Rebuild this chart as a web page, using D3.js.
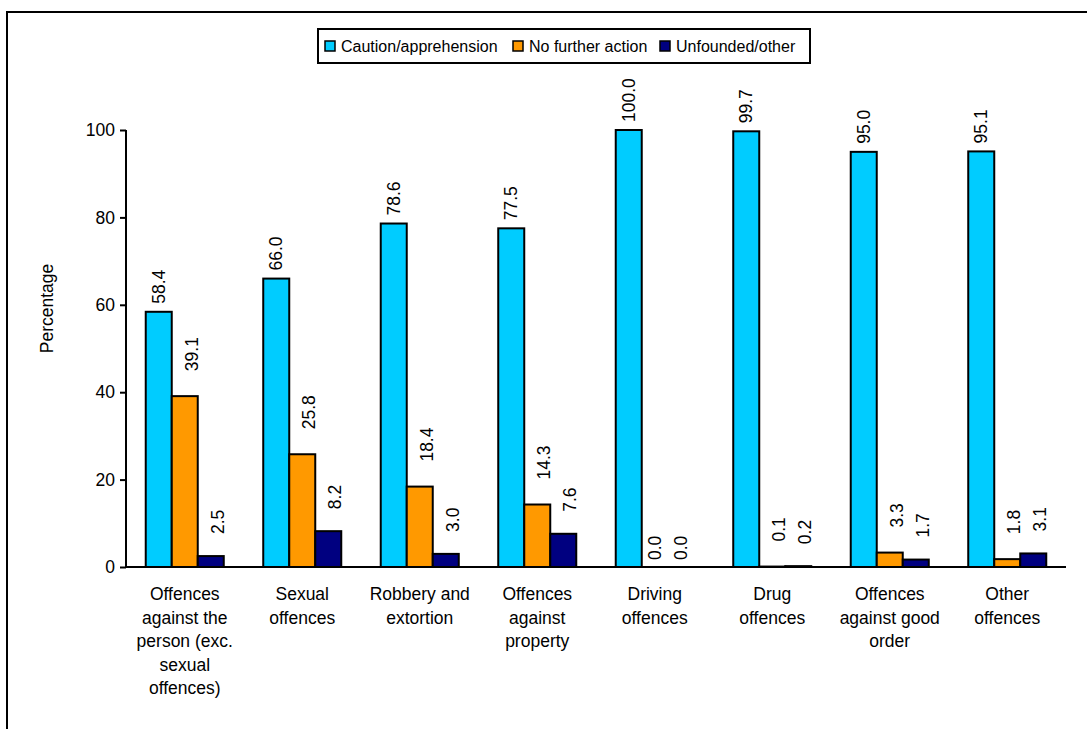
<!DOCTYPE html>
<html>
<head>
<meta charset="utf-8">
<script src="https://cdn.jsdelivr.net/npm/d3@7"></script>
<style>
  html, body { margin: 0; padding: 0; background: #fff; }
  svg { display: block; font-family: Arial, "Liberation Sans", sans-serif; }
</style>
</head>
<body>
<svg id="chart" width="1087" height="729"></svg>
<script>
// Offence categories (multi-line axis labels)
const categories = [
  ["Offences", "against the", "person (exc.", "sexual", "offences)"],
  ["Sexual", "offences"],
  ["Robbery and", "extortion"],
  ["Offences", "against", "property"],
  ["Driving", "offences"],
  ["Drug", "offences"],
  ["Offences", "against good", "order"],
  ["Other", "offences"]
];
const seriesNames = ["Caution/apprehension", "No further action", "Unfounded/other"];
const cautionValues   = [58.4, 66.0, 78.6, 77.5, 100.0, 99.7, 95.0, 95.1];
const noFurtherValues = [39.1, 25.8, 18.4, 14.3, 0.0, 0.1, 3.3, 1.8];
const unfoundedValues = [2.5, 8.2, 3.0, 7.6, 0.0, 0.2, 1.7, 3.1];
const yTicks = [0, 20, 40, 60, 80, 100];
const yTitle = "Percentage";

const seriesValues = [cautionValues, noFurtherValues, unfoundedValues];
const colors = ["#00CCFF", "#FF9900", "#000080"];
const labelGap = [8, 25, 22];
const labelShift = [0, 7, 7];

const svg = d3.select("#chart");

// outer chart frame (left and top edges visible)
svg.append("path")
  .attr("d", "M7,729 V12 H1087")
  .attr("fill", "none").attr("stroke", "#000").attr("stroke-width", 2);

const plot = { left: 126, right: 1066, top: 130, bottom: 567 };

const x0 = d3.scaleBand()
  .domain(d3.range(categories.length))
  .range([plot.left, plot.right])
  .paddingInner(0.336).paddingOuter(0.168);
const x1 = d3.scaleBand()
  .domain(d3.range(seriesNames.length))
  .range([0, x0.bandwidth()]);
const y = d3.scaleLinear().domain([0, 100]).range([plot.bottom, plot.top]);

// y axis
const yAxis = svg.append("g")
  .attr("transform", `translate(${plot.left},0)`)
  .call(d3.axisLeft(y).tickValues(yTicks).tickSize(6).tickPadding(5).tickFormat(d3.format("d")));
yAxis.select(".domain").attr("stroke", "#000").attr("stroke-width", 2)
  .attr("d", `M0,${plot.top}V${plot.bottom}`);
yAxis.selectAll(".tick line").attr("stroke", "#000").attr("stroke-width", 2);
yAxis.selectAll(".tick text").attr("font-size", 17.5).attr("fill", "#000")
  .attr("font-family", "Arial, 'Liberation Sans', sans-serif");

svg.append("text")
  .attr("transform", `translate(47,${(plot.top + plot.bottom) / 2 - 40}) rotate(-90)`)
  .attr("text-anchor", "middle").attr("dominant-baseline", "central")
  .attr("font-size", 17.5).text(yTitle);

// bars
const groups = svg.append("g").selectAll("g")
  .data(categories.map((c, i) => i))
  .join("g")
  .attr("transform", i => `translate(${x0(i)},0)`);

groups.selectAll("rect")
  .data(i => seriesValues.map((vals, s) => ({ s, v: vals[i] })))
  .join("rect")
  .attr("x", d => x1(d.s))
  .attr("y", d => y(d.v))
  .attr("width", x1.bandwidth())
  .attr("height", d => y(0) - y(d.v))
  .attr("fill", d => colors[d.s])
  .attr("stroke", "#000").attr("stroke-width", 2);

// value labels, rotated
groups.selectAll("text.val")
  .data(i => seriesValues.map((vals, s) => ({ s, v: vals[i] })))
  .join("text")
  .attr("class", "val")
  .attr("transform", d => {
    const cx = x1(d.s) + x1.bandwidth() / 2 + (d.v === 0 ? 0 : labelShift[d.s]);
    const gap = d.v === 0 ? 7 : labelGap[d.s];
    return `translate(${cx},${y(d.v) - gap}) rotate(-90)`;
  })
  .attr("text-anchor", "start").attr("dominant-baseline", "central")
  .attr("font-size", 17.5)
  .text(d => d3.format(".1f")(d.v));

// x axis line
svg.append("line")
  .attr("x1", plot.left).attr("x2", plot.right)
  .attr("y1", plot.bottom).attr("y2", plot.bottom)
  .attr("stroke", "#000").attr("stroke-width", 2);

// category labels
const catLabels = svg.append("g").selectAll("text")
  .data(categories)
  .join("text")
  .attr("x", (d, i) => x0(i) + x0.bandwidth() / 2)
  .attr("y", 600)
  .attr("text-anchor", "middle")
  .attr("font-size", 17.5);
catLabels.selectAll("tspan")
  .data(d => d)
  .join("tspan")
  .attr("x", function () { return d3.select(this.parentNode).attr("x"); })
  .attr("dy", (d, j) => j === 0 ? 0 : 23.5)
  .text(d => d);

// legend
const legend = svg.append("g");
legend.append("rect")
  .attr("x", 318).attr("y", 29).attr("width", 492).attr("height", 34)
  .attr("fill", "#fff").attr("stroke", "#000").attr("stroke-width", 2);
const legendX = [325, 513, 660];
const items = legend.selectAll("g.item")
  .data(seriesNames)
  .join("g").attr("class", "item")
  .attr("transform", (d, i) => `translate(${legendX[i]},46)`);
items.append("rect")
  .attr("x", 0).attr("y", -5).attr("width", 10).attr("height", 10)
  .attr("fill", (d, i) => colors[i]).attr("stroke", "#000").attr("stroke-width", 1.5);
items.append("text")
  .attr("x", 16).attr("y", 0)
  .attr("dominant-baseline", "central")
  .attr("font-size", 16)
  .text(d => d);
</script>
</body>
</html>
